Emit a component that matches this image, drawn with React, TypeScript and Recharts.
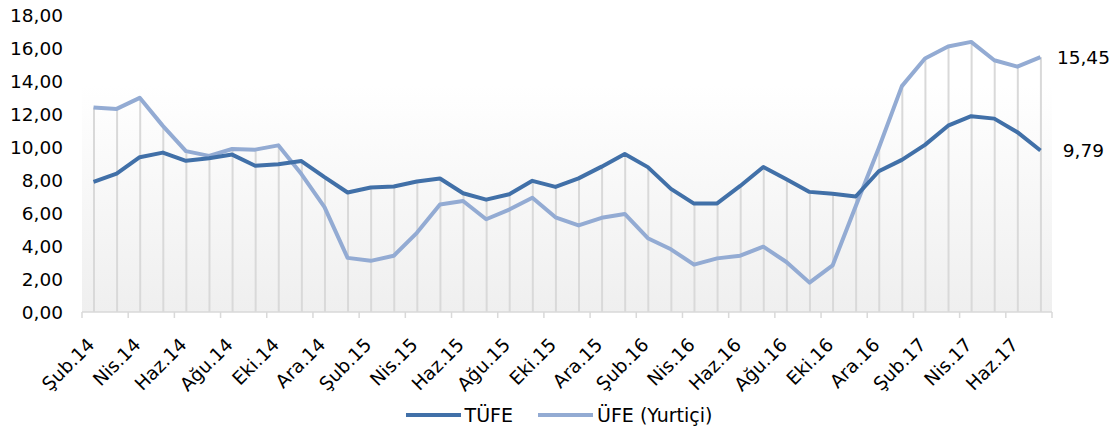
import React from 'react';
import { ComposedChart, Line, Bar, XAxis, YAxis, Legend, ReferenceArea, LabelList } from 'recharts';

const categories = [
  'Şub.14', 'Mar.14', 'Nis.14', 'May.14', 'Haz.14', 'Tem.14', 'Ağu.14', 'Eyl.14', 'Eki.14', 'Kas.14', 'Ara.14',
  'Oca.15', 'Şub.15', 'Mar.15', 'Nis.15', 'May.15', 'Haz.15', 'Tem.15', 'Ağu.15', 'Eyl.15', 'Eki.15', 'Kas.15', 'Ara.15',
  'Oca.16', 'Şub.16', 'Mar.16', 'Nis.16', 'May.16', 'Haz.16', 'Tem.16', 'Ağu.16', 'Eyl.16', 'Eki.16', 'Kas.16', 'Ara.16',
  'Oca.17', 'Şub.17', 'Mar.17', 'Nis.17', 'May.17', 'Haz.17', 'Tem.17',
];

const tufe = [
  7.89, 8.39, 9.38, 9.66, 9.16, 9.32, 9.54, 8.86, 8.96, 9.15, 8.17,
  7.24, 7.55, 7.61, 7.91, 8.09, 7.20, 6.81, 7.14, 7.95, 7.58, 8.10, 8.81,
  9.58, 8.78, 7.46, 6.57, 6.58, 7.64, 8.79, 8.05, 7.28, 7.16, 7.00, 8.53,
  9.22, 10.13, 11.29, 11.87, 11.72, 10.90, 9.79,
];

const ufe = [
  12.40, 12.31, 12.98, 11.28, 9.75, 9.46, 9.88, 9.84, 10.10, 8.36, 6.36,
  3.28, 3.10, 3.41, 4.80, 6.52, 6.73, 5.62, 6.21, 6.92, 5.74, 5.25, 5.71,
  5.94, 4.47, 3.80, 2.87, 3.25, 3.41, 3.96, 3.03, 1.78, 2.82, 6.41, 9.94,
  13.69, 15.36, 16.09, 16.37, 15.26, 14.87, 15.45,
];

const yTicks = [0, 2, 4, 6, 8, 10, 12, 14, 16, 18];

const seriesNames = ['TÜFE', 'ÜFE (Yurtiçi)'];

const data = categories.map((month, i) => ({
  month,
  tufe: tufe[i],
  ufe: ufe[i],
  drop: Math.max(tufe[i], ufe[i]),
}));

const W = 1118;
const H = 426;
const MARGIN = { top: 15, right: 66, bottom: 0, left: 0 };
const Y_AXIS_W = 82;
const PLOT_W = W - MARGIN.left - MARGIN.right - Y_AXIS_W;
const FONT = '"DejaVu Sans", Verdana, sans-serif';
const AXIS_FS = 18.5;
const TUFE_COLOR = '#4170a8';
const UFE_COLOR = '#93abd3';
const GRID = '#d9d9d9';

const fmt = (v: number) => v.toFixed(2).replace('.', ',');

const XTick = (props: any) => {
  const { x, y, payload } = props;
  const i = payload.index;
  const band = PLOT_W / categories.length;
  const left = x - band / 2;
  const tx = x + 2;
  const ty = y + 34;
  return (
    <g>
      <line x1={left} x2={left} y1={y} y2={y + 6} stroke={GRID} strokeWidth={1.5} />
      {i === categories.length - 2 && (
        <line x1={left + 2 * band} x2={left + 2 * band} y1={y} y2={y + 6} stroke={GRID} strokeWidth={1.5} />
      )}
      <text
        x={tx}
        y={ty}
        textAnchor="end"
        transform={`rotate(-45, ${tx}, ${ty})`}
        fontFamily={FONT}
        fontSize={AXIS_FS}
        fill="#000"
      >
        {payload.value}
      </text>
    </g>
  );
};

const endLabel = (props: any) => {
  const { x, y, index, value } = props;
  if (index !== categories.length - 1) return null;
  return (
    <text x={x + 43} y={y} dy="0.355em" textAnchor="middle" fontFamily={FONT} fontSize={AXIS_FS} fill="#000">
      {fmt(value)}
    </text>
  );
};

const renderLegend = () => (
  <div
    style={{
      display: 'flex',
      justifyContent: 'center',
      alignItems: 'center',
      height: 22,
      fontFamily: FONT,
      fontSize: 19,
      color: '#000',
      whiteSpace: 'nowrap',
    }}
  >
    <span style={{ display: 'inline-block', width: 55, height: 4, background: TUFE_COLOR, marginRight: 4 }} />
    <span>{seriesNames[0]}</span>
    <span style={{ display: 'inline-block', width: 55, height: 4, background: UFE_COLOR, marginLeft: 25, marginRight: 4 }} />
    <span>{seriesNames[1]}</span>
  </div>
);

export default function App() {
  return (
    <div style={{ position: 'absolute', left: 0, top: 0, width: W, height: H, background: '#fff' }}>
      <ComposedChart width={W} height={H} data={data} margin={MARGIN}>
        <defs>
          <linearGradient id="bgGrad" x1="0" y1="0" x2="0" y2="1">
            <stop offset="0%" stopColor="#ffffff" />
            <stop offset="100%" stopColor="#efefef" />
          </linearGradient>
        </defs>
        <ReferenceArea y1={0} y2={13.75} fill="url(#bgGrad)" fillOpacity={1} stroke="none" />
        <XAxis
          dataKey="month"
          interval={1}
          tickLine={false}
          tickSize={0}
          tickMargin={0}
          axisLine={{ stroke: GRID, strokeWidth: 1.5 }}
          height={92}
          tick={<XTick />}
        />
        <YAxis
          domain={[0, 18]}
          ticks={yTicks}
          interval={0}
          width={Y_AXIS_W}
          axisLine={false}
          tickLine={false}
          tickSize={0}
          tickMargin={19}
          tickFormatter={fmt}
          tick={{ fontFamily: FONT, fontSize: AXIS_FS, fill: '#000' }}
        />
        <Bar dataKey="drop" barSize={2} fill={GRID} isAnimationActive={false} legendType="none" />
        <Line
          type="linear"
          dataKey="ufe"
          name={seriesNames[1]}
          stroke={UFE_COLOR}
          strokeWidth={4}
          dot={false}
          activeDot={false}
          strokeLinejoin="round"
          isAnimationActive={false}
        >
          <LabelList dataKey="ufe" content={endLabel} />
        </Line>
        <Line
          type="linear"
          dataKey="tufe"
          name={seriesNames[0]}
          stroke={TUFE_COLOR}
          strokeWidth={4}
          dot={false}
          activeDot={false}
          strokeLinejoin="round"
          isAnimationActive={false}
        >
          <LabelList dataKey="tufe" content={endLabel} />
        </Line>
        <Legend
          verticalAlign="bottom"
          content={renderLegend}
          wrapperStyle={{ left: 0, width: W, bottom: 0 }}
        />
      </ComposedChart>
    </div>
  );
}
